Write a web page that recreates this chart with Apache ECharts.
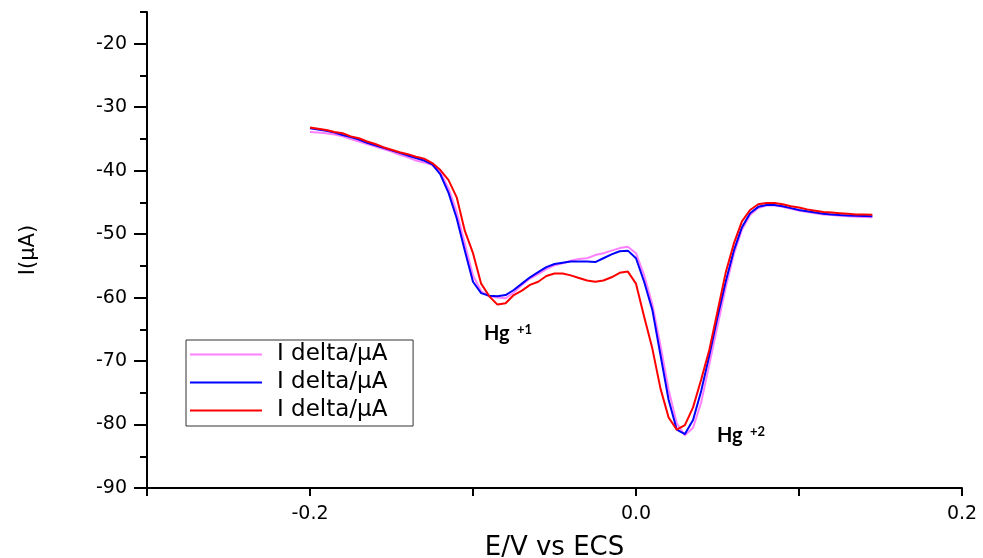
<!DOCTYPE html>
<html>
<head>
<meta charset="utf-8">
<script src="https://cdn.jsdelivr.net/npm/echarts@6/dist/echarts.min.js"></script>
<style>
  html, body { margin: 0; padding: 0; background: #fff; }
  #chart { width: 983px; height: 558px; }
</style>
</head>
<body>
<div id="chart"></div>
<script>
// 电位 (V)
var voltage = [
  -0.200, -0.195, -0.190, -0.185, -0.180, -0.175, -0.170, -0.165, -0.160, -0.155,
  -0.150, -0.145, -0.140, -0.135, -0.130, -0.125, -0.120, -0.115, -0.110, -0.105,
  -0.100, -0.095, -0.090, -0.085, -0.080, -0.075, -0.070, -0.065, -0.060, -0.055,
  -0.050, -0.045, -0.040, -0.035, -0.030, -0.025, -0.020, -0.015, -0.010, -0.005,
  0.000, 0.005, 0.010, 0.015, 0.020, 0.025, 0.030, 0.035, 0.040, 0.045,
  0.050, 0.055, 0.060, 0.065, 0.070, 0.075, 0.080, 0.085, 0.090, 0.095,
  0.100, 0.105, 0.110, 0.115, 0.120, 0.125, 0.130, 0.135, 0.140, 0.145
];
// 电流 (μA)
var iPink = [
  -33.9, -34.0, -34.1, -34.3, -34.6, -35.0, -35.4, -35.8, -36.2, -36.6,
  -37.0, -37.5, -37.9, -38.4, -38.7, -39.1, -40.3, -42.8, -46.5, -51.5,
  -56.5, -59.0, -59.8, -60.0, -60.1, -59.2, -58.0, -57.0, -56.3, -55.5,
  -54.9, -54.6, -54.2, -53.9, -53.8, -53.3, -53.0, -52.6, -52.2, -52.0,
  -53.0, -56.5, -61.0, -67.5, -74.5, -79.8, -81.7, -80.5, -76.5, -70.5,
  -64.5, -58.5, -53.2, -49.3, -47.0, -45.9, -45.5, -45.5, -45.7, -46.0,
  -46.3, -46.5, -46.7, -46.9, -47.0, -47.1, -47.2, -47.25, -47.3, -47.35
];
var iBlue = [
  -33.3, -33.5, -33.7, -34.0, -34.4, -34.7, -35.1, -35.6, -36.0, -36.4,
  -36.8, -37.2, -37.6, -38.0, -38.4, -39.0, -40.6, -43.5, -47.5, -52.6,
  -57.5, -59.3, -59.7, -59.8, -59.6, -58.8, -57.8, -56.8, -56.0, -55.2,
  -54.7, -54.5, -54.3, -54.3, -54.3, -54.4, -53.8, -53.2, -52.7, -52.6,
  -53.8, -57.5, -61.9, -69.0, -76.1, -80.8, -81.5, -79.3, -74.7, -69.1,
  -63.1, -57.5, -52.6, -48.9, -46.7, -45.7, -45.4, -45.4, -45.6, -45.9,
  -46.2, -46.4, -46.6, -46.8, -46.9, -47.0, -47.05, -47.1, -47.15, -47.2
];
var iRed = [
  -33.2, -33.4, -33.6, -33.9, -34.1, -34.6, -34.9, -35.4, -35.8, -36.3,
  -36.7, -37.1, -37.4, -37.8, -38.1, -38.8, -39.9, -41.5, -44.2, -49.5,
  -53.0, -57.8, -59.8, -61.1, -60.9, -59.6, -58.9, -58.0, -57.5, -56.6,
  -56.2, -56.2, -56.5, -56.9, -57.3, -57.5, -57.3, -56.8, -56.1, -55.9,
  -57.8, -63.0, -68.0, -74.3, -78.9, -80.8, -80.1, -77.3, -72.9, -68.2,
  -62.2, -56.1, -51.5, -48.0, -46.2, -45.3, -45.1, -45.1, -45.3, -45.6,
  -45.8, -46.1, -46.3, -46.5, -46.6, -46.7, -46.8, -46.9, -46.9, -46.95
];
var seriesNames = ['I delta/μA', 'I delta/μA ', 'I delta/μA  '];
var seriesColors = ['#ff80ff', '#0000ff', '#ff0000'];
var yMajorTicks = [-90, -80, -70, -60, -50, -40, -30, -20];

var chartDom = document.getElementById('chart');
var myChart = echarts.init(chartDom);

function zip(xs, ys) {
  return xs.map(function (x, i) { return [x, ys[i]]; });
}

// 曲线
function initSeries() {
  var all = [iPink, iBlue, iRed];
  return all.map(function (vals, i) {
    return {
      name: seriesNames[i],
      type: 'line',
      symbol: 'none',
      lineStyle: { color: seriesColors[i], width: 2 },
      itemStyle: { color: seriesColors[i] },
      data: zip(voltage, vals)
    };
  });
}

var axisFont = 'DejaVu Sans';

var option = {
  animation: false,
  backgroundColor: '#fff',
  grid: { left: 147, right: 21, top: 12, bottom: 70, outerBoundsMode: 'none' },
  legend: {
    left: 186,
    top: 340,
    orient: 'vertical',
    icon: 'rect',
    itemWidth: 72,
    itemHeight: 2,
    itemGap: 5,
    padding: [3, 11, 4, 4],
    borderColor: '#333',
    borderWidth: 1,
    textStyle: {
      fontFamily: axisFont,
      fontSize: 23,
      color: '#000',
      padding: [0, 0, 0, 10]
    },
    data: seriesNames
  },
  xAxis: {
    type: 'value',
    min: -0.3,
    max: 0.2,
    interval: 0.1,
    name: 'E/V vs ECS',
    nameLocation: 'middle',
    nameGap: 47,
    nameTextStyle: { fontFamily: axisFont, fontSize: 26, color: '#000' },
    axisLine: { show: true, onZero: false, lineStyle: { color: '#000', width: 2 } },
    axisTick: { show: true, length: 8, lineStyle: { color: '#000', width: 2 } },
    axisLabel: {
      margin: 17,
      fontFamily: axisFont,
      fontSize: 19,
      color: '#000',
      formatter: function (v) {
        var k = Math.round(v * 10);
        if (k === -3 || k % 2 !== 0) return '';
        return (k / 10).toFixed(1);
      }
    },
    splitLine: { show: false }
  },
  yAxis: [
    {
      type: 'value',
      min: -90,
      max: -15,
      interval: 5,
      name: 'I(μA)',
      nameLocation: 'middle',
      nameGap: 108,
      nameTextStyle: { fontFamily: axisFont, fontSize: 21, color: '#000' },
      axisLine: { show: true, onZero: false, lineStyle: { color: '#000', width: 2 } },
      axisTick: { show: true, length: 7, lineStyle: { color: '#000', width: 2 } },
      axisLabel: {
        margin: 20,
        fontFamily: axisFont,
        fontSize: 19,
        color: '#000',
        formatter: function (v) {
          return Math.round(v) % 10 === 0 ? String(Math.round(v)) : '';
        }
      },
      splitLine: { show: false }
    },
    {
      type: 'value',
      min: -90,
      max: -15,
      interval: 5,
      position: 'left',
      axisLine: { show: false, onZero: false },
      axisTick: {
        show: true,
        length: 13,
        customValues: yMajorTicks,
        lineStyle: { color: '#000', width: 2 }
      },
      axisLabel: { show: false },
      splitLine: { show: false }
    }
  ],
  graphic: [
    { type: 'text', x: 484, y: 334, style: { text: 'Hg', font: 'bold 20px Lato', fill: '#000', verticalAlign: 'middle' } },
    { type: 'text', x: 517, y: 330, style: { text: '+1', font: 'bold 13px Lato', fill: '#000', verticalAlign: 'middle' } },
    { type: 'text', x: 717, y: 436, style: { text: 'Hg', font: 'bold 20px Lato', fill: '#000', verticalAlign: 'middle' } },
    { type: 'text', x: 750, y: 432, style: { text: '+2', font: 'bold 13px Lato', fill: '#000', verticalAlign: 'middle' } }
  ],
  series: initSeries()
};

myChart.setOption(option);
</script>
</body>
</html>
